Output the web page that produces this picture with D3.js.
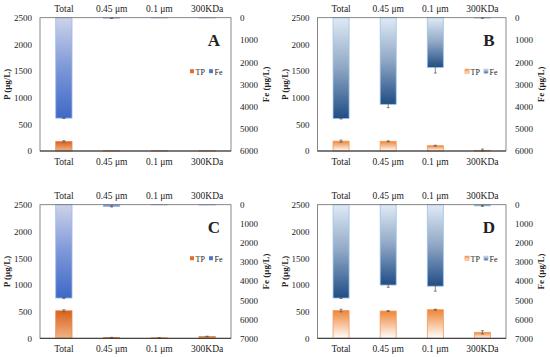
<!DOCTYPE html>
<html><head><meta charset="utf-8">
<script src="https://cdn.jsdelivr.net/npm/d3@7/dist/d3.min.js"></script>
<style>body{margin:0;background:#fff}svg{display:block}svg text{font-family:"Liberation Serif","Times New Roman",serif !important;fill:#222}</style>
</head><body>
<svg id="c" width="550" height="357"></svg>
<script>
const categories = ["Total", "0.45 μm", "0.1 μm", "300KDa"];
const panelNames = ["A", "B", "C", "D"];
const tpA = [180, 5, 5, 5],       tpErrA = [15, 0, 0, 0];
const feA = [4520, 20, 10, 10],   feErrA = [20, 15, 0, 0];
const tpB = [185, 182, 100, 12],  tpErrB = [20, 8, 8, 25];
const feB = [4540, 3900, 2240, 15], feErrB = [20, 150, 250, 10];
const tpC = [515, 15, 8, 35],     tpErrC = [20, 3, 2, 5];
const feC = [4890, 90, 10, 15],   feErrC = [30, 30, 0, 0];
const tpD = [520, 510, 535, 112], tpErrD = [25, 8, 10, 30];
const feD = [4890, 4210, 4270, 60], feErrD = [20, 120, 260, 30];
const pTicks = [0, 500, 1000, 1500, 2000, 2500];
const feTicks6 = [0, 1000, 2000, 3000, 4000, 5000, 6000];
const feTicks7 = [0, 1000, 2000, 3000, 4000, 5000, 6000, 7000];

const panels = [
  {name:panelNames[0], tp:tpA, tpE:tpErrA, fe:feA, feE:feErrA, feMax:6000, feTicks:feTicks6, style:1, x0:40, x1:231, y0:17.7, y1:151},
  {name:panelNames[1], tp:tpB, tpE:tpErrB, fe:feB, feE:feErrB, feMax:6000, feTicks:feTicks6, style:2, x0:317.5, x1:506, y0:17.7, y1:151},
  {name:panelNames[2], tp:tpC, tpE:tpErrC, fe:feC, feE:feErrC, feMax:7000, feTicks:feTicks7, style:1, x0:40, x1:231, y0:204.7, y1:338.3},
  {name:panelNames[3], tp:tpD, tpE:tpErrD, fe:feD, feE:feErrD, feMax:7000, feTicks:feTicks7, style:2, x0:317.5, x1:506, y0:204.7, y1:338.3}
];

const FONT = '"Liberation Serif","Times New Roman",serif';
const svg = d3.select("#c");
const defs = svg.append("defs");
function grad(id, stops){
  const g = defs.append("linearGradient").attr("id", id).attr("x1",0).attr("y1",0).attr("x2",0).attr("y2",1);
  stops.forEach(s => g.append("stop").attr("offset", s[0]).attr("stop-color", s[1]));
}
grad("fe1", [[0,"#ccd3ea"],[0.5,"#7d97d8"],[1,"#3d69c6"]]);
grad("tp1", [[0,"#d5621c"],[1,"#f3b386"]]);
grad("fe2", [[0,"#dfeaf6"],[0.5,"#8fa6c4"],[1,"#1f4d86"]]);
grad("tp2", [[0,"#ef8436"],[1,"#ffffff"]]);

panels.forEach(p => {
  const g = svg.append("g");
  const x = d3.scaleBand().domain(categories).range([p.x0, p.x1]).paddingInner(0.66).paddingOuter(0.33);
  const yP = d3.scaleLinear().domain([0, 2500]).range([p.y1, p.y0]);
  const yF = d3.scaleLinear().domain([0, p.feMax]).range([p.y0, p.y1]);
  const feFill = p.style === 1 ? "url(#fe1)" : "url(#fe2)";
  const tpFill = p.style === 1 ? "url(#tp1)" : "url(#tp2)";
  const feStroke = p.style === 1 ? "#9fb6e4" : "#9dc3e6";
  const tpStroke = p.style === 1 ? "#e88a4c" : "#f29a5a";

  g.selectAll(".fe").data(categories).enter().append("rect")
    .attr("x", d => x(d)).attr("width", x.bandwidth())
    .attr("y", p.y0).attr("height", (d,i) => yF(p.fe[i]) - p.y0)
    .attr("fill", feFill).attr("stroke", feStroke).attr("stroke-width", 0.8);
  g.selectAll(".tp").data(categories).enter().append("rect")
    .attr("x", d => x(d)).attr("width", x.bandwidth())
    .attr("y", (d,i) => yP(p.tp[i])).attr("height", (d,i) => p.y1 - yP(p.tp[i]))
    .attr("fill", tpFill).attr("stroke", tpStroke).attr("stroke-width", 0.8);

  function err(cx, ya, yb){
    g.append("line").attr("x1",cx).attr("x2",cx).attr("y1",ya).attr("y2",yb).attr("stroke","#555").attr("stroke-width",0.7);
    [ya,yb].forEach(yy => g.append("line").attr("x1",cx-1.5).attr("x2",cx+1.5).attr("y1",yy).attr("y2",yy).attr("stroke","#555").attr("stroke-width",0.7));
  }
  categories.forEach((c,i) => {
    const cx = x(c) + x.bandwidth()/2;
    if (p.feE[i] > 0) err(cx, yF(p.fe[i]-p.feE[i]), yF(p.fe[i]+p.feE[i]));
    if (p.tpE[i] > 0) err(cx, yP(p.tp[i]+p.tpE[i]), yP(Math.max(0,p.tp[i]-p.tpE[i])));
  });

  g.append("rect").attr("x", p.x0).attr("y", p.y0).attr("width", p.x1-p.x0).attr("height", p.y1-p.y0)
    .attr("fill","none").attr("stroke","#6b6b6b").attr("stroke-width",0.8);
  g.append("line").attr("x1",p.x0).attr("x2",p.x1).attr("y1",p.y1).attr("y2",p.y1).attr("stroke","#333").attr("stroke-width",1);

  const left = g.append("g").attr("transform",`translate(${p.x0},0)`)
    .call(d3.axisLeft(yP).tickValues(pTicks).tickSize(0).tickPadding(8).tickFormat(d3.format("d")));
  const right = g.append("g").attr("transform",`translate(${p.x1},0)`)
    .call(d3.axisRight(yF).tickValues(p.feTicks).tickSize(0).tickPadding(9).tickFormat(d3.format("d")));
  const bottom = g.append("g").attr("transform",`translate(0,${p.y1})`)
    .call(d3.axisBottom(x).tickSize(0).tickPadding(7));
  const top = g.append("g").attr("transform",`translate(0,${p.y0})`)
    .call(d3.axisTop(x).tickSize(0).tickPadding(6));
  [left,right,bottom,top].forEach(a => { a.attr("font-family", FONT); a.select(".domain").remove(); a.selectAll("text").attr("font-size", 9).style("font-family", FONT).attr("fill","#222"); });
  [bottom,top].forEach(a => a.selectAll("text").attr("font-size", 9.5));

  g.append("text").attr("transform",`translate(${p.x0-30},${(p.y0+p.y1)/2}) rotate(-90)`)
    .attr("text-anchor","middle").attr("font-size",9).attr("font-weight","bold").style("font-family",FONT).text("P (μg/L)");
  g.append("text").attr("transform",`translate(${p.x1+38},${(p.y0+p.y1)/2}) rotate(-90)`)
    .attr("text-anchor","middle").attr("font-size",9).attr("font-weight","bold").style("font-family",FONT).text("Fe (μg/L)");

  g.append("text").attr("x", p.x1-17).attr("y", p.y0+28).attr("text-anchor","middle")
    .attr("font-size",17).attr("font-weight","bold").attr("fill","#111").style("font-family",FONT).text(p.name);

  const ly = p.y0 + 54;
  const lx = p.x1 - 41;
  const items = [{t:"TP", f:tpFill, s:tpStroke, solid:"#e2702a"}, {t:"Fe", f:feFill, s:feStroke, solid:"#4a78cc"}];
  items.forEach((it,k) => {
    const xx = lx + k*19;
    g.append("rect").attr("x", xx).attr("y", ly-2.5).attr("width",4).attr("height",4)
      .attr("fill", p.style===1 ? it.solid : it.f).attr("stroke", p.style===1 ? "none" : it.s).attr("stroke-width",0.8);
    g.append("text").attr("x", xx+5.5).attr("y", ly+2.8).attr("font-size",8).style("font-family",FONT).text(it.t);
  });
});
</script>
</body></html>
